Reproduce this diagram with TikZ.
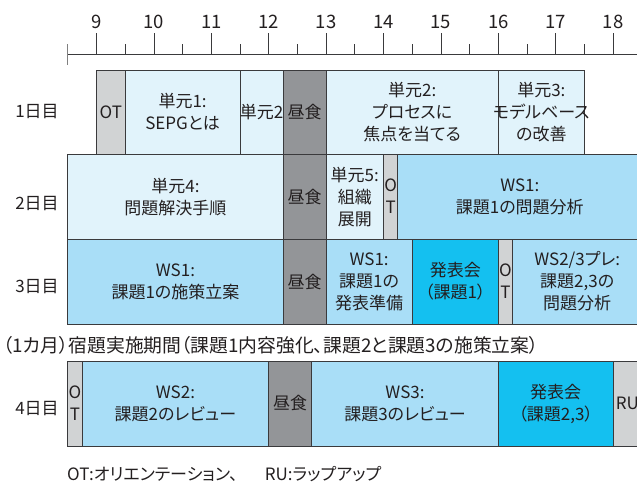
\documentclass[tikz,border=0pt]{standalone}
\usepackage{fontspec}
\setmainfont{Noto Sans CJK JP}[RawFeature=+palt]
\definecolor{bordc}{HTML}{3A3A3C}
\definecolor{txtc}{HTML}{231F20}
\definecolor{otc}{HTML}{D1D3D4}
\definecolor{lunchc}{HTML}{939598}
\definecolor{unitc}{HTML}{E1F3FB}
\definecolor{wsc}{HTML}{A9DEF7}
\definecolor{presc}{HTML}{14C0F0}
\newcommand\fs{\fontsize{17}{22}\selectfont}
\newcommand\blk[7]{%
  \path[blkbox,#6] (#2,#4) rectangle (#3,#5);
  \node[lbl] (#1) at ({(#2+#3)/2},{(#4+#5)/2}) {#7};}
\begin{document}
\begin{tikzpicture}[x=1pt,y=-1pt,
  blkbox/.style={draw=bordc,line width=0.8pt},
  lbl/.style={inner sep=0pt,align=center,font=\fs,text=txtc},
  ot/.style={fill=otc},
  lunch/.style={fill=lunchc},
  unit/.style={fill=unitc},
  ws/.style={fill=wsc},
  pres/.style={fill=presc},
  axis/.style={draw=bordc,line width=0.8pt},
  daylbl/.style={inner sep=0pt,font=\fs,text=txtc},
  hourlbl/.style={inner sep=0pt,font=\fontsize{18.5}{22}\selectfont,text=txtc}]
\useasboundingbox (0,0) rectangle (637,483);
\clip (0,0) rectangle (637,483);
% axis
\draw[axis] (67.8,54) -- (640,54);
\draw[draw=gray,line width=1.2pt] (67.8,44) -- (67.8,65);
\foreach \h in {9,...,18}{
  \pgfmathsetmacro\xx{96.5+(\h-9)*57.4}
  \draw[axis] (\xx,33) -- (\xx,54);
  \node[hourlbl] (h\h) at (\xx,22) {\h};
}
\foreach \h in {9.5,10.5,...,17.5}{
  \pgfmathsetmacro\xx{96.5+(\h-9)*57.4}
  \draw[axis] (\xx,44) -- (\xx,54);
}
% day labels
\node[daylbl] (d1) at (37,112) {1日目};
\node[daylbl] (d2) at (37,204) {2日目};
\node[daylbl] (d3) at (37,287) {3日目};
\node[daylbl] (d4) at (37,409) {4日目};
% row 1
\blk{ot1}{96.5}{125.2}{70}{154}{ot}{OT}
\blk{u1}{125.2}{240}{70}{154}{unit}{単元1:\\SEPGとは}
\blk{u2a}{240}{283.05}{70}{154}{unit}{単元2}
\blk{l1}{283.05}{326.1}{70}{154}{lunch}{昼食}
\blk{u2b}{326.1}{498.3}{70}{154}{unit}{単元2:\\プロセスに\\焦点を当てる}
\blk{u3}{498.3}{584.4}{70}{154}{unit}{単元3:\\モデルベース\\の改善}
% row 2
\blk{u4}{67.8}{283.05}{154}{239.3}{unit}{単元4:\\問題解決手順}
\blk{l2}{283.05}{326.1}{154}{239.3}{lunch}{昼食}
\blk{u5}{326.1}{383.5}{154}{239.3}{unit}{単元5:\\組織\\展開}
\blk{ot2}{383.5}{397.85}{154}{239.3}{ot}{O\\T}
\blk{w1a}{397.85}{641.8}{154}{239.3}{ws}{WS1:\\課題1の問題分析}
% row 3
\blk{w1b}{67.8}{283.05}{239.3}{324}{ws}{WS1:\\課題1の施策立案}
\blk{l3}{283.05}{326.1}{239.3}{324}{lunch}{昼食}
\blk{w1c}{326.1}{412.2}{239.3}{324}{ws}{WS1:\\課題1の\\発表準備}
\blk{p1}{412.2}{498.3}{239.3}{324}{pres}{発表会\\（課題1）}
\blk{ot3}{498.3}{512.65}{239.3}{324}{ot}{O\\T}
\blk{w23}{512.65}{641.8}{239.3}{324}{ws}{WS2/3プレ:\\課題2,3の\\問題分析}
% note
\node[lbl,anchor=west,font=\fontsize{18.8}{22}\selectfont] (note) at (3,345) {（1カ月）宿題実施期間（課題1内容強化、課題2と課題3の施策立案）};
% row 4
\blk{ot4}{67.8}{82.15}{361}{446}{ot}{O\\T}
\blk{w2}{82.15}{268.7}{361}{446}{ws}{WS2:\\課題2のレビュー}
\blk{l4}{268.7}{311.75}{361}{446}{lunch}{昼食}
\blk{w3}{311.75}{498.3}{361}{446}{ws}{WS3:\\課題3のレビュー}
\blk{p2}{498.3}{613.1}{361}{446}{pres}{発表会\\（課題2,3）}
\blk{ru}{613.1}{641.8}{361}{446}{ot}{RU}
% legend
\node[lbl,anchor=west] (legend) at (67,474) {OT:オリエンテーション、\hspace{1.6em}RU:ラップアップ};
\end{tikzpicture}
\end{document}
